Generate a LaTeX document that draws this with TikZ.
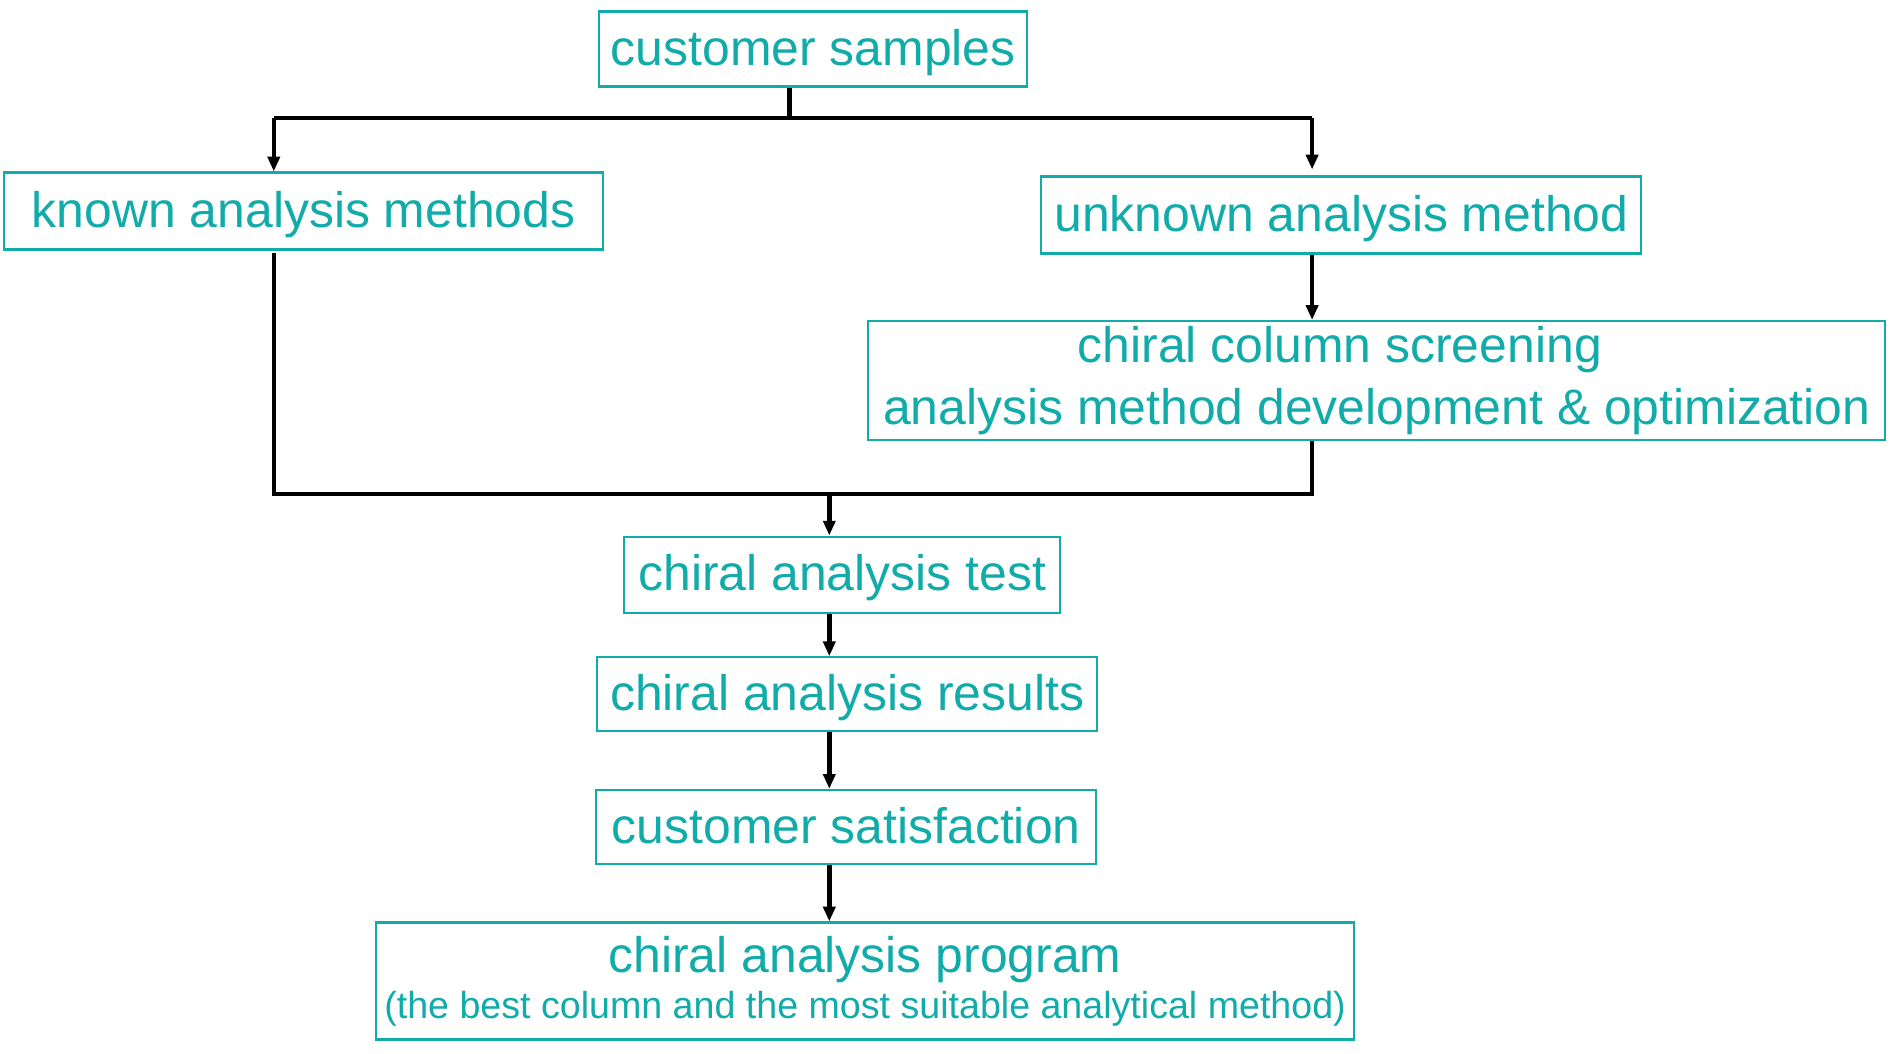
\documentclass[tikz,border=0pt]{standalone}
\usepackage{fontspec}
\setmainfont{Liberation Sans}
\usetikzlibrary{arrows.meta}
\definecolor{tealtext}{RGB}{17,171,170}
\tikzset{
    box/.style={draw=tealtext,line width=0.6pt,text=tealtext,inner sep=0pt,align=center},
    onebox/.style={box,text height=12.2pt,text depth=3pt},
    link/.style={line width=1.25pt},
    arr/.style={link,-{Triangle[length=4.2pt,width=3.4pt]}}
}
\begin{document}
\begin{tikzpicture}[font=\fontsize{14.2}{19}\selectfont]
    \useasboundingbox (0,0) rectangle (19.02,-10.53);
    \node[onebox,minimum width=4.28cm,minimum height=0.75cm] (samp) at (8.133,-0.49) {customer samples};
    \node[onebox,minimum width=5.99cm,minimum height=0.77cm] (known) at (3.036,-2.11) {known analysis methods};
    \node[onebox,minimum width=6.00cm,minimum height=0.77cm] (unknown) at (13.414,-2.15) {unknown analysis method};
    \node[box,minimum width=10.17cm,minimum height=1.19cm,font=\fontsize{14.2}{17.5}\selectfont] (screen) at (13.768,-3.805)
        {chiral column screening\hspace*{0.74cm}\\analysis method development \& optimization};
    \node[onebox,minimum width=4.36cm,minimum height=0.76cm] (test) at (8.422,-5.746) {chiral analysis test};
    \node[onebox,minimum width=5.00cm,minimum height=0.74cm] (results) at (8.472,-6.943) {chiral analysis results};
    \node[onebox,minimum width=5.00cm,minimum height=0.74cm] (satis) at (8.462,-8.269) {customer satisfaction};
    \node[box,minimum width=9.78cm,minimum height=1.17cm] (prog) at (8.651,-9.81)
        {chiral analysis program\\[-6pt]{\fontsize{10.7}{13}\selectfont(the best column and the most suitable analytical method)}};
    % split and join points
    \coordinate (split) at (7.894,-1.177);
    \coordinate (sl) at (2.738,-1.177);
    \coordinate (sr) at (13.121,-1.177);
    \coordinate (jl) at (2.738,-4.938);
    \coordinate (jr) at (13.121,-4.938);
    \coordinate (jm) at (8.293,-4.938);
    \draw[link] (samp.south -| split) -- (split);
    \draw[link] (sl) -- (sr);
    \draw[arr] (sl) -- (known.north -| sl);
    \draw[arr] (sr) -- ([yshift=0.06cm]unknown.north -| sr);
    \draw[arr] (unknown.south -| sr) -- (screen.north -| sr);
    \draw[link] ([yshift=-0.02cm]known.south -| jl) -- (jl) -- (jr) -- (screen.south -| jr);
    \draw[arr] (jm) -- (test.north -| jm);
    \foreach \a/\b in {test/results, results/satis, satis/prog} {
        \draw[arr] (\a.south -| jm) -- (\b.north -| jm);
    }
\end{tikzpicture}
\end{document}
